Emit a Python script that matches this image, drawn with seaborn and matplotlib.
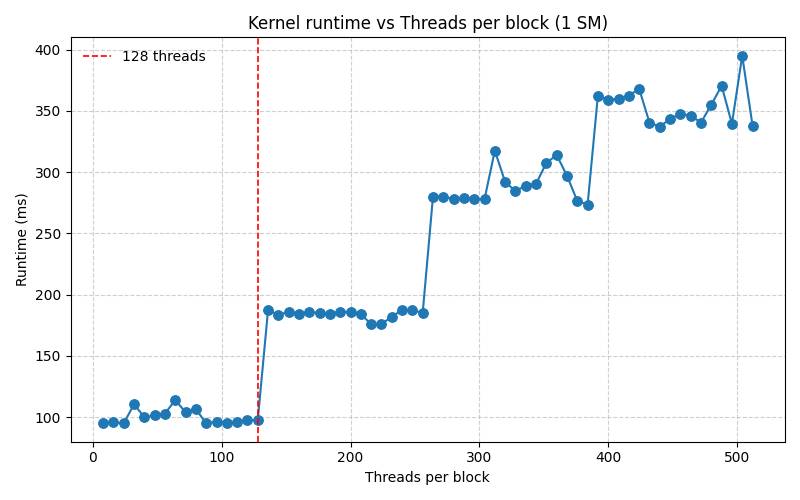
import numpy as np
import pandas as pd
import matplotlib
matplotlib.use("Agg")
import matplotlib.pyplot as plt
import seaborn as sns

# threads per block (multiples of 8)
threads = list(range(8, 513, 8))

# runtime (ms)
runtime_ms = [
    95, 96, 95, 110.5, 100, 101.5, 103, 114, 104, 106.5,
    95, 96.5, 95, 96, 97.5, 97.5,
    187.5, 183.5, 186, 184, 186, 185, 184, 186, 186, 184,
    176, 176, 182, 187.5, 187.5, 185,
    280, 280, 278, 279, 278, 278, 317.5, 292, 284.5, 289,
    290.5, 307.5, 314, 297, 276.5, 273.5,
    362.5, 359, 360, 362.5, 368, 340.5, 337, 343.5, 347.5, 346,
    340.5, 355, 370.5, 339.5, 395, 338,
]

marker_threads = 128

df = pd.DataFrame({"threads": threads, "runtime": runtime_ms})

fig, ax = plt.subplots(figsize=(8, 5), dpi=100)
sns.lineplot(data=df, x="threads", y="runtime", marker="o", markersize=7,
             markeredgecolor="#1f77b4", color="#1f77b4", linewidth=1.5, ax=ax)
ax.axvline(marker_threads, color="red", linestyle="--", linewidth=1.2,
           label=f"{marker_threads} threads")

ax.set_title("Kernel runtime vs Threads per block (1 SM)")
ax.set_xlabel("Threads per block")
ax.set_ylabel("Runtime (ms)")
ax.grid(True, linestyle="--", alpha=0.6)
ax.legend(loc="upper left", frameon=False)

fig.tight_layout()
fig.savefig("out.png")
